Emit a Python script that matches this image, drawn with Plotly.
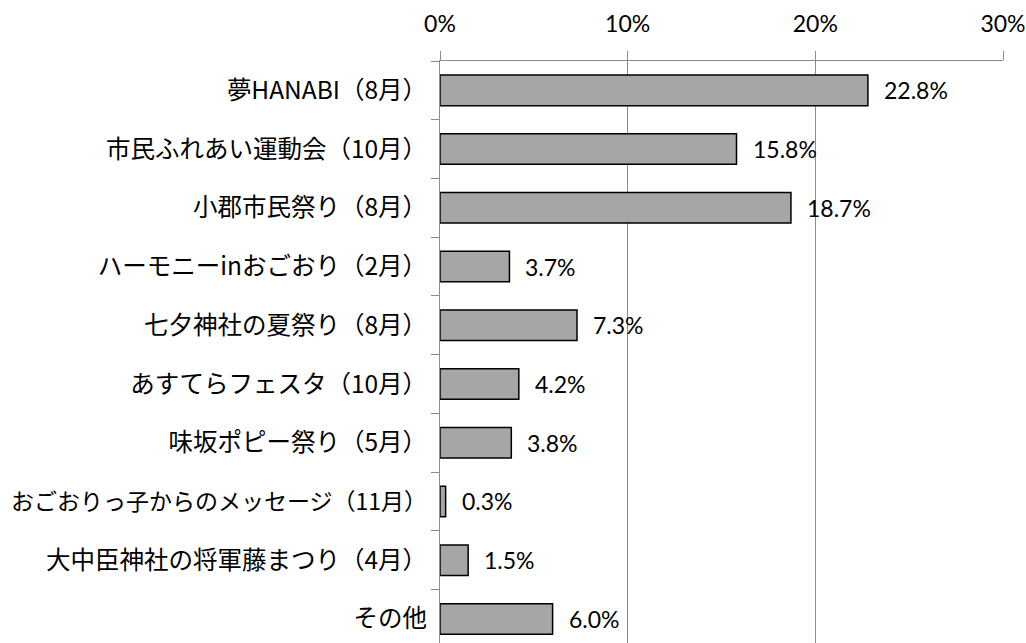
import plotly.graph_objects as go

categories = [
    "夢HANABI（8月）",
    "市民ふれあい運動会（10月）",
    "小郡市民祭り（8月）",
    "ハーモニーinおごおり（2月）",
    "七夕神社の夏祭り（8月）",
    "あすてらフェスタ（10月）",
    "味坂ポピー祭り（5月）",
    "おごおりっ子からのメッセージ（11月）",
    "大中臣神社の将軍藤まつり（4月）",
    "その他",
]
values = [22.8, 15.8, 18.7, 3.7, 7.3, 4.2, 3.8, 0.3, 1.5, 6.0]
value_labels = [f"{v:.1f}%" for v in values]
x_ticks = [0, 10, 20, 30]
x_tick_labels = ["0%", "10%", "20%", "30%"]

# long label rendered slightly smaller so it fits like the reference's proportional font
y_tick_text = [
    c if len(c) < 18 else f'<span style="font-size:23px">{c}</span>'
    for c in categories
]

num_font = dict(family="Lato, Open Sans, sans-serif", size=23, color="#000")

fig = go.Figure()
fig.add_trace(go.Bar(
    x=values, y=categories, orientation="h",
    marker=dict(color="#a6a6a6", line=dict(color="#000000", width=1.5)),
    width=0.52, hoverinfo="skip",
))

for c, v, t in zip(categories, values, value_labels):
    fig.add_annotation(x=v, y=c, text=t, showarrow=False, xanchor="left",
                       xshift=14, font=num_font)

fig.update_layout(
    width=1026, height=643,
    margin=dict(l=440, r=23, t=61, b=0),
    plot_bgcolor="white", paper_bgcolor="white",
    showlegend=False,
    font=dict(family="Noto Sans CJK JP", color="#000"),
)
fig.update_xaxes(
    side="top", range=[0, 30], tickvals=x_ticks, ticktext=x_tick_labels,
    showgrid=True, gridcolor="#8c8c8c", gridwidth=1,
    showline=True, linecolor="#8c8c8c", linewidth=1,
    ticks="outside", ticklen=9, tickcolor="#8c8c8c",
    ticklabelstandoff=10,
    tickfont=num_font,
    zeroline=False, fixedrange=True, automargin=False,
)
fig.update_yaxes(
    categoryorder="array", categoryarray=categories,
    tickmode="array", tickvals=categories, ticktext=y_tick_text,
    range=[9.41, -0.5], autorange=False,
    showline=True, linecolor="#8c8c8c", linewidth=1,
    ticks="outside", ticklen=8, tickcolor="#8c8c8c", tickson="boundaries",
    ticklabelstandoff=7,
    tickfont=dict(family="Noto Sans CJK JP", size=24.5, color="#000"),
    showgrid=False, zeroline=False, fixedrange=True, automargin=False,
)

fig.write_html(
    "out.html",
    config={"displayModeBar": False, "staticPlot": True},
    post_script="document.body.style.margin='0';document.body.style.overflow='hidden';",
)
